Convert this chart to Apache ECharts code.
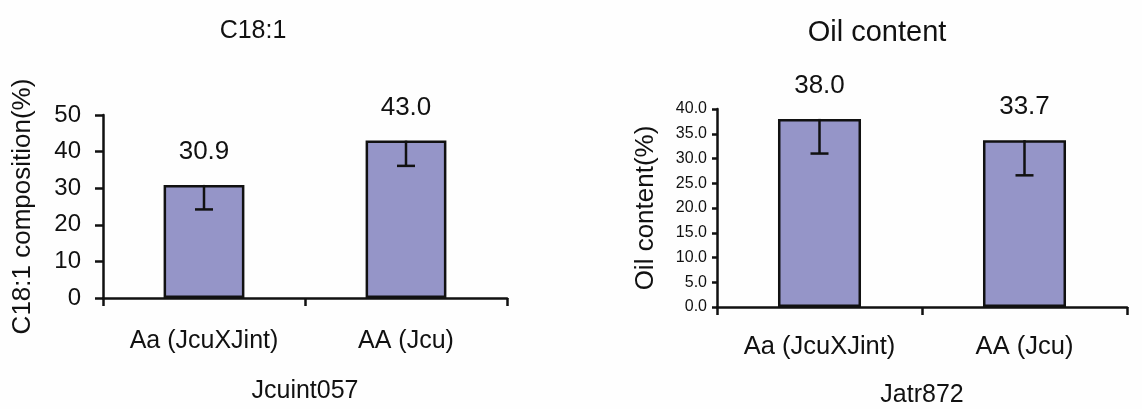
<!DOCTYPE html>
<html>
<head>
<meta charset="utf-8">
<script src="https://cdn.jsdelivr.net/npm/echarts@6/dist/echarts.min.js"></script>
<style>
html,body{margin:0;padding:0;background:#fefefe;}
#c{width:1142px;height:409px;}
</style>
</head>
<body>
<div id="c"></div>
<script>
var categories = ['Aa (JcuXJint)', 'AA (Jcu)'];
var c18Values = [30.9, 43.0];
var c18Err = [6.7, 6.9];
var oilValues = [38.0, 33.7];
var oilErr = [7.0, 7.1];
var c18Ticks = {min: 0, max: 50, interval: 10};
var oilTicks = {min: 0, max: 40, interval: 5};

var FONT = 'Liberation Sans, Arial, sans-serif';
var barColor = '#9595C8';

function errData(vals, errs) {
  return vals.map(function (v, i) { return [i, v, v - errs[i]]; });
}
function renderErr(params, api) {
  var x = api.value(0);
  var top = api.coord([x, api.value(1)]);
  var low = api.coord([x, api.value(2)]);
  var half = 9;
  return {
    type: 'group',
    children: [
      {type: 'line', shape: {x1: top[0], y1: top[1], x2: low[0], y2: low[1]}, style: {stroke: '#111', lineWidth: 2.5}},
      {type: 'line', shape: {x1: low[0] - half, y1: low[1], x2: low[0] + half, y2: low[1]}, style: {stroke: '#111', lineWidth: 2.5}}
    ]
  };
}

var axisLine = {show: true, lineStyle: {color: '#111', width: 2.5}};
var axisTick = {show: true, inside: false, length: 8, lineStyle: {color: '#111', width: 2.5}};

var chart = echarts.init(document.getElementById('c'));
chart.setOption({
  backgroundColor: '#fefefe',
  animation: false,
  textStyle: {fontFamily: FONT, color: '#111'},
  title: [
    {text: 'C18:1', left: 248, top: 14, textAlign: 'center',
     textStyle: {fontSize: 25, fontWeight: 'normal', color: '#111', fontFamily: FONT}},
    {text: 'Oil content', left: 872, top: 13, textAlign: 'center',
     textStyle: {fontSize: 29, fontWeight: 'normal', color: '#111', fontFamily: FONT}}
  ],
  grid: [
    {left: 103, top: 115, width: 404, height: 183},
    {left: 717, top: 109, width: 410, height: 199}
  ],
  xAxis: [
    {type: 'category', gridIndex: 0, data: categories,
     axisLine: axisLine, axisTick: axisTick,
     axisLabel: {fontSize: 25, color: '#111', margin: 31, fontFamily: FONT},
     name: 'Jcuint057', nameLocation: 'middle', nameGap: 81,
     nameTextStyle: {fontSize: 25, color: '#111', fontFamily: FONT}},
    {type: 'category', gridIndex: 1, data: categories,
     axisLine: axisLine, axisTick: axisTick,
     axisLabel: {fontSize: 25.5, color: '#111', margin: 27, fontFamily: FONT},
     name: 'Jatr872', nameLocation: 'middle', nameGap: 76,
     nameTextStyle: {fontSize: 25, color: '#111', fontFamily: FONT}}
  ],
  yAxis: [
    {type: 'value', gridIndex: 0, min: c18Ticks.min, max: c18Ticks.max, interval: c18Ticks.interval,
     axisLine: axisLine, axisTick: axisTick, splitLine: {show: false},
     axisLabel: {fontSize: 24, color: '#111', margin: 22, fontFamily: FONT},
     name: 'C18:1 composition(%)', nameLocation: 'middle', nameGap: 67,
     nameTextStyle: {fontSize: 26, color: '#111', fontFamily: FONT}},
    {type: 'value', gridIndex: 1, min: oilTicks.min, max: oilTicks.max, interval: oilTicks.interval,
     axisLine: axisLine, axisTick: {show: true, length: 5, lineStyle: {color: '#111', width: 2.5}}, splitLine: {show: false},
     axisLabel: {fontSize: 16, color: '#111', margin: 10, fontFamily: FONT,
                 formatter: function (v) { return v.toFixed(1); }},
     name: 'Oil content(%)', nameLocation: 'middle', nameGap: 58,
     nameTextStyle: {fontSize: 26, color: '#111', fontFamily: FONT}}
  ],
  series: [
    {type: 'bar', xAxisIndex: 0, yAxisIndex: 0, data: c18Values, barWidth: '40%',
     itemStyle: {color: barColor, borderColor: '#111', borderWidth: 2.5},
     label: {show: true, position: 'top', distance: 20, fontSize: 26, color: '#111', fontFamily: FONT,
             formatter: function (p) { return p.value.toFixed(1); }}},
    {type: 'custom', xAxisIndex: 0, yAxisIndex: 0, data: errData(c18Values, c18Err),
     renderItem: renderErr, encode: {x: 0, y: [1, 2]}, z: 5},
    {type: 'bar', xAxisIndex: 1, yAxisIndex: 1, data: oilValues, barWidth: '40.5%',
     itemStyle: {color: barColor, borderColor: '#111', borderWidth: 2.5},
     label: {show: true, position: 'top', distance: 20, fontSize: 26, color: '#111', fontFamily: FONT,
             formatter: function (p) { return p.value.toFixed(1); }}},
    {type: 'custom', xAxisIndex: 1, yAxisIndex: 1, data: errData(oilValues, oilErr),
     renderItem: renderErr, encode: {x: 0, y: [1, 2]}, z: 5}
  ]
});
</script>
</body>
</html>
